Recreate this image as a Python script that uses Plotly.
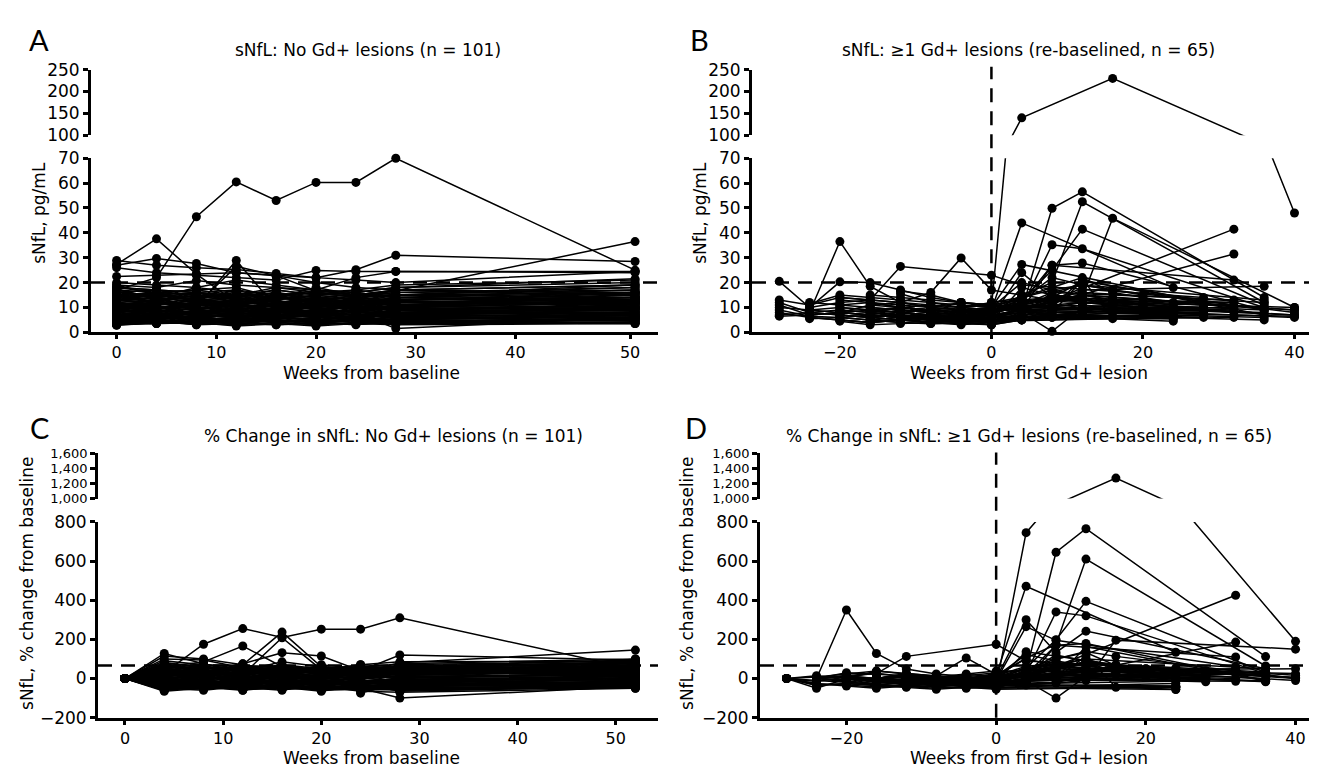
import plotly.graph_objects as go

W, H = 1317, 771

# ---------------- data ----------------
weeks_A = [0, 4, 8, 12, 16, 20, 24, 28, 52]
sNfL_A = [
    [17, 22, 46.5, 60.5, 53, 60.3, 60.3, 70, 25],
    [27.3, 37.6, 23.4, 12, 14, 13, 12, 15, 14],
    [27, 29.7, 27.7, 24, 22.8, 20, 18, 17, 19],
    [28.9, 27, 26, 25.3, 23.7, 22, 21, 20, 24.5],
    [26, 24, 23, 22, 21, 24.9, 24.5, 24.5, 24.5],
    [22.5, 23, 23.5, 24, 23, 22, 25.2, 31, 28.5],
    [16, 14, 10, 28.9, 10, 11, 12, 13, 14],
    [13, 12, 11, 26.5, 22.8, 16.7, 15, 14, 16],
    [19, 18, 20.8, 19, 18, 17, 22, 24.5, 24],
    [18, 17, 16, 15, 14, 16, 15, 16.7, 36.5],
    [10, 9, 8, 9, 8, 7, 8, 1.5, 6],
    [20, 19, 18, 21, 19, 17, 16, 18, 21.5],
    [15, 14, 16, 13, 15, 14, 13, 15, 16],
    [12, 13, 11, 12, 14, 12, 11, 13, 14],
    [10, 11, 12, 10, 11, 13, 12, 11, 12],
    [9, 8, 10, 9, 8, 9, 10, 9, 11],
    [8, 9, 7, 8, 9, 8, 7, 9, 10],
    [7, 6, 8, 7, 6, 7, 8, 7, 9],
    [6, 7, 6, 5, 7, 6, 6, 7, 8],
    [5, 6, 5, 6, 5, 5, 6, 5, 7],
    [4, 5, 4, 4, 5, 4, 5, 4, 6],
    [3, 4, 3.5, 3, 4, 3, 4, 3.5, 4],
    [14, 15, 13, 14, 12, 13, 14, 12, 13],
    [11, 10, 11, 13, 10, 11, 9, 10, 12],
    [13, 11, 12, 11, 13, 10, 12, 11, 15],
    [16, 15, 14, 16, 13, 15, 16, 14, 17],
    [17, 16, 15, 14, 16, 14, 15, 16, 18],
    [18, 17, 16, 17, 15, 16, 14, 15, 19],
    [9, 10, 9, 11, 10, 8, 9, 10, 9],
    [8, 7, 9, 6, 8, 10, 8, 8, 7],
    [6, 5, 7, 8, 6, 5, 7, 6, 6],
    [5, 4, 6, 5, 4, 6, 5, 6, 5],
    [4, 3.5, 5, 3, 5, 3, 4, 5, 4.5],
    [11, 12, 10, 9, 12, 10, 11, 12, 11],
    [12, 11, 13, 12, 11, 12, 13, 12, 13],
    [7, 8, 7, 9, 7, 8, 6, 8, 8],
    [10, 9, 8, 10, 9, 11, 10, 9, 10],
    [13, 14, 12, 13, 14, 13, 12, 14, 12],
    [15, 13, 14, 15, 14, 12, 13, 13, 14],
    [3, 3.5, 4, 2.5, 3.5, 2.5, 3.5, 4, 3.5],
    [5.5, 6.5, 5, 6, 6.5, 5, 6, 6.5, 5.5],
    [8.5, 7.5, 8.5, 8, 7, 9, 8.5, 7.5, 8],
    [9.5, 10.5, 9.5, 10.5, 11, 9.5, 10, 10.5, 9.5],
    [14.5, 12.5, 15, 12, 13.5, 14.5, 11.5, 13, 15.5],
    [6.5, 8, 6, 7, 8.5, 6.5, 7.5, 5.5, 7],
    [11.5, 9.5, 10.5, 11, 9, 10, 11.5, 9.5, 10.5],
    [4.5, 5, 4.5, 5.5, 4.5, 4.5, 5, 4.5, 5],
    [16.5, 14, 12, 11, 12.5, 11, 13, 12, 14],
    [7.5, 6, 9, 8, 6.5, 7.5, 9, 8, 9.5],
    [12.5, 14, 13, 10, 12, 14, 13.5, 11, 12.5],
    [19, 15, 13, 14, 12, 13, 14, 13, 15],
    [10.5, 8, 11, 12, 9, 12, 8, 11, 13],
    [5, 7, 6, 7, 5.5, 7, 6, 7, 6.5],
    [8, 10, 8, 7, 10, 8, 11, 9, 8.5],
    [13.5, 11, 14, 15, 11, 12, 10, 12.5, 11.5],
    [17.5, 13, 16, 14, 17, 15, 13, 17, 16],
    [2.8, 4, 3.5, 5, 4, 4.5, 3.2, 4, 3.5],
    [9, 11, 13, 9, 11, 9, 12, 8, 10],
    [6, 9, 5, 6, 9.5, 6, 5.5, 9, 7.5],
    [15, 16, 17, 18, 14, 17, 16, 18, 20],
    [14, 12, 15, 13, 11, 14, 12, 13, 16],
    [11, 13, 9, 12, 13, 9, 12, 14, 13],
    [9, 7, 8, 10, 7, 9, 8, 10, 12],
    [7, 9, 7, 6, 9, 7, 9, 6, 8],
    [5, 5.5, 7, 4, 6, 5.5, 4, 7, 6],
    [3.5, 4.5, 3, 4.5, 3, 4, 3, 4.5, 4],
    [16, 17, 14, 15, 17, 15, 17, 15, 18],
    [12, 10, 12, 14, 12, 13, 10, 12, 14],
    [10, 12, 10, 8, 11, 10, 13, 12, 11],
    [8, 6, 8, 9, 7, 6, 9, 8, 9.5],
    [6.5, 5, 6.5, 7, 5, 8, 6, 5, 7],
    [4, 6, 4, 5, 6, 3.5, 5, 5.5, 5],
    [13, 15, 16, 12, 15, 16, 14, 16, 17],
    [15, 12, 11, 13, 16, 13, 11, 14, 13],
    [11, 9, 12, 8, 10, 12, 10, 8, 10],
    [9.5, 12, 9, 11, 9, 10.5, 11, 12, 12],
    [7, 5.5, 8, 5.5, 7.5, 6, 7.5, 6.5, 7],
    [5, 4, 4, 6, 4, 5, 4.5, 3.5, 5.5],
    [18, 16, 17, 15, 18, 16, 17, 19, 21],
    [14, 16, 13, 17, 13, 15, 15, 17, 15],
    [12, 9, 14, 11, 15, 11, 12, 10, 13],
    [10, 12.5, 9.5, 13, 10.5, 13, 9, 13, 14],
    [8, 10.5, 7, 9, 11, 7, 10, 9, 11.5],
    [6, 7.5, 5.5, 8, 6, 9, 6.5, 8, 9],
    [4.5, 3.5, 6, 4, 5, 4, 6, 4, 5],
    [3, 5, 3, 3.5, 3, 3.5, 3.5, 3, 3.5],
    [17, 14, 18, 16, 14, 18, 15, 17, 19],
    [13, 16, 15, 14, 16, 12, 15, 15, 16],
    [9, 8.5, 11, 10, 8.5, 11, 9.5, 11, 10],
    [7, 7, 6, 6.5, 8, 7, 5, 7.5, 6],
]

weeks_C = [0, 4, 8, 12, 16, 20, 24, 28, 52]
pct_C = [
    [0, 29, 175, 255, 210, 252, 252, 310, 47],
    [0, 128, 75, 35, 25, 10, 5, 30, 65],
    [0, 115, 100, 70, 237, 60, 40, 50, 85],
    [0, 60, 85, 166, 60, 30, 20, 40, 55],
    [0, 45, 30, 75, 132, 115, 40, 120, 95],
    [0, 20, 15, 40, 85, 60, 30, 80, 145],
    [0, -35, -30, -20, -30, -45, -50, -100, -40],
    [0, 100, 95, 55, 30, 50, -75, -20, 100],
    [0, 80, 60, 20, 208, 45, 35, 70, 90],
    [0, 10, 20, 5, 15, 0, 10, 20, 30],
    [0, -20, -10, -30, -15, -25, -10, -20, -5],
    [0, 30, 40, 20, 35, 25, 45, 30, 50],
    [0, -40, -30, -45, -35, -50, -40, -30, -20],
    [0, 50, 30, 60, 40, 35, 25, 45, 70],
    [0, -10, 5, -5, 10, -15, 0, 10, 15],
    [0, 5, -15, 10, -5, 20, -10, 0, 25],
    [0, -55, -45, -60, -40, -60, -55, -50, -35],
    [0, 70, 50, 40, 55, 30, 45, 60, 80],
    [0, -25, -35, -20, -30, -10, -30, -40, -30],
    [0, 15, 25, 35, 20, 40, 30, 15, 40],
    [0, -5, -20, 0, -25, -5, -20, -10, 10],
    [0, 40, 60, 45, 70, 50, 60, 40, 60],
    [0, -30, -5, -35, -10, -35, -25, 5, -10],
    [0, 20, -5, 25, 5, 10, 20, 25, 35],
    [0, -45, -55, -40, -50, -45, -60, -55, -45],
    [0, 60, 35, 50, 25, 55, 40, 35, 55],
    [0, -15, 10, -25, 0, -20, 5, -15, 0],
    [0, 25, 45, 15, 50, 20, 55, 50, 65],
    [0, -50, -40, -55, -45, -65, -35, -45, -50],
    [0, 35, 15, 30, 45, 35, 15, 55, 75],
    [0, 0, -25, -15, -20, -30, -15, -25, -15],
    [0, 90, 70, 65, 60, 40, 55, 75, 100],
    [0, -35, -15, -50, -20, -40, -45, -35, -25],
    [0, 10, 30, -10, 20, 5, 35, 20, 45],
    [0, -20, -50, -30, -55, -50, -25, -65, -40],
    [0, 45, 20, 55, 30, 65, 25, 40, 50],
    [0, -60, -35, -45, -60, -30, -50, -60, -30],
    [0, 25, 5, 35, 10, 30, 5, 10, 20],
    [0, -10, -35, 5, -40, -20, -35, -30, -20],
    [0, 55, 75, 30, 65, 45, 70, 85, 90],
    [0, 15, -40, 20, -15, 15, -5, -40, 5],
    [0, -30, 25, -15, 30, -35, 15, 35, 30],
    [0, 65, 45, 75, 15, 70, 50, 25, 85],
    [0, -45, -20, -40, -35, -55, -45, -15, -45],
    [0, 5, 50, -5, 45, 0, 35, 45, 40],
    [0, -65, -50, -35, -45, -40, -65, -70, -50],
    [0, 35, -20, 45, -10, 25, -15, -5, 15],
    [0, 75, 40, 25, 50, 20, 65, 45, 60],
    [0, -20, 0, -45, -5, -25, -5, -45, -10],
    [0, 20, 35, 10, 25, 15, 30, 25, 45],
    [0, -15, -25, -10, -35, -20, -15, -30, -20],
    [0, 40, 20, 30, 15, 45, 20, 35, 55],
    [0, -50, -60, -40, -55, -35, -60, -45, -40],
    [0, 5, 10, -10, 5, -5, 15, 5, 20],
    [0, -35, -10, -25, -5, -30, -20, -10, 0],
    [0, 60, 50, 60, 45, 25, 50, 55, 75],
    [0, -25, -45, -35, -40, -45, -35, -55, -35],
    [0, 30, 5, 45, 20, 40, 10, 30, 35],
    [0, -5, -30, 0, -20, 5, -30, -15, 5],
    [0, 50, 65, 35, 40, 55, 35, 65, 80],
    [0, -40, -20, -50, -30, -50, -45, -25, -30],
    [0, 15, 40, 25, 35, 10, 40, 15, 50],
    [0, -60, -45, -55, -50, -45, -40, -60, -45],
    [0, 0, 15, -20, 10, -10, 0, 10, 25],
    [0, 35, 25, 10, 55, 30, 25, 45, 65],
    [0, -30, -40, -20, -45, -25, -40, -35, -25],
    [0, 70, 35, 55, 35, 60, 45, 20, 70],
    [0, -10, -5, -35, -15, -40, -10, -40, -15],
    [0, 25, 55, 40, 20, 35, 60, 40, 60],
    [0, -45, -30, -60, -25, -55, -50, -30, -35],
    [0, 10, -10, 15, -25, 10, -15, -5, 10],
    [0, 45, 35, 65, 55, 50, 30, 55, 85],
    [0, -20, -35, -5, -35, -15, -25, -20, -10],
    [0, 80, 55, 45, 60, 40, 70, 60, 95],
    [0, -55, -20, -30, -40, -60, -30, -50, -40],
    [0, 20, 30, 50, 5, 20, 40, 5, 30],
    [0, -35, -50, -25, -50, -35, -55, -40, -30],
    [0, 55, 25, 20, 40, 45, 15, 50, 55],
    [0, -5, 20, -20, 15, -5, 25, -25, 15],
]

# re-baselined visit weeks per subject (shared by panels B and D)
weeks_B = [
    [-12, -8, -4, 0, 4, 16, 40],
    [-28, -24, -20, -16, -12, -8, -4, 0, 24],
    [-24, -20, -16, -12, -8, -4, 0, 4, 28],
    [-28, -24, -20, -16, -12, -8, -4, 0, 24],
    [-28, -24, -20, -16, -12, -8, -4, 0, 24],
    [-28, -24, -20, -16, -12, -8, -4, 0, 24],
    [-28, -24, -20, -16, -12, -8, -4, 0, 24],
    [-28, -24, -20, -16, -12, -8, -4, 0, 24],
    [-28, -24, -20, -16, -12, -8, -4, 0, 24],
    [-24, -20, -16, -12, 0, 4, 28],
    [-24, -20, -16, -12, -8, -4, 0, 4, 28],
    [-24, -20, -16, -12, -8, -4, 0, 4, 28],
    [-24, -20, -16, -12, -8, -4, 0, 4, 28],
    [-24, -20, -16, -12, -8, -4, 0, 4, 28],
    [-24, -20, -16, -12, -8, -4, 0, 4, 28],
    [-20, -16, -12, -8, -4, 0, 4, 8, 32],
    [-20, -16, -12, -8, -4, 0, 4, 8, 32],
    [-20, -16, -12, -8, -4, 0, 4, 8, 32],
    [-20, -16, -12, -8, -4, 0, 4, 8, 32],
    [-20, -16, -12, -8, -4, 0, 4, 8, 32],
    [-20, -16, -12, -8, -4, 0, 4, 8, 32],
    [-20, -16, -12, -8, -4, 0, 4, 8, 32],
    [-4, 0, 4, 24],
    [-16, -12, -8, -4, 0, 4, 8, 12, 36],
    [-16, -12, -8, -4, 0, 4, 8, 12, 36],
    [-16, -12, -8, -4, 0, 4, 8, 12, 36],
    [-16, -12, -8, -4, 0, 4, 8, 12, 36],
    [-16, -12, -8, -4, 0, 4, 8, 12, 36],
    [-16, -12, -8, -4, 0, 4, 8, 12, 36],
    [-16, -12, -8, -4, 0, 4, 8, 12, 36],
    [-16, -12, -8, -4, 0, 4, 8, 12, 36],
    [-16, -12, -8, -4, 0, 4, 8, 12, 36],
    [-16, -12, -8, -4, 0, 4, 8, 12, 36],
    [-12, -8, -4, 0, 4, 8, 12, 16, 40],
    [-12, -8, -4, 0, 4, 8, 12, 16, 40],
    [-12, -8, -4, 0, 4, 8, 12, 16, 40],
    [-12, -8, -4, 0, 4, 8, 12, 16, 40],
    [-12, -8, -4, 0, 4, 8, 12, 16, 40],
    [0, 4, 8, 12, 16, 20, 24, 28],
    [0, 4, 8, 12, 16, 20, 24, 28],
    [0, 4, 8, 12, 16, 20, 24, 28],
    [-8, -4, 0, 4, 8, 12, 16, 20],
    [-8, -4, 0, 4, 8, 12, 16, 20],
    [-4, 0, 4, 8, 12, 16, 20, 24],
    [-4, 0, 4, 8, 12, 16, 20, 24],
    [-16, -12, -8, -4, 0, 4, 8, 12, 36],
    [-20, -16, -12, -8, -4, 0, 4, 8, 32],
    [-28, -24, -20, -16, -12, -8, -4, 0, 24],
    [-4, 0, 4, 8, 12, 16, 24],
    [-12, -8, -4, 0, 4, 8, 12, 16, 40],
    [-28, -24, -20, -16, -12, -8, -4, 0, 24],
    [-24, -20, -16, -12, -8, -4, 0, 4, 28],
    [-24, -20, -16, -12, -8, -4, 0, 4, 28],
    [-20, -16, -12, -8, -4, 0, 4, 8, 32],
    [-20, -16, -12, -8, -4, 0, 4, 8, 32],
    [-16, -12, -8, -4, 0, 4, 8, 12, 36],
    [-16, -12, -8, -4, 0, 4, 8, 12, 36],
    [-16, -12, -8, -4, 0, 4, 8, 12, 36],
    [-16, -12, -8, -4, 0, 4, 8, 12, 36],
    [-12, -8, -4, 0, 4, 8, 12, 16, 40],
    [-12, -8, -4, 0, 4, 8, 12, 16, 40],
    [-12, -8, -4, 0, 4, 8, 12, 16, 40],
    [0, 4, 8, 12, 16, 20, 24, 28],
    [-8, -4, 0, 4, 8, 12, 16, 20],
    [-4, 0, 4, 8, 12, 16, 20, 24],
    [-20, -16, -12, -8, -4, 0, 4, 8, 32],
]

sNfL_B = [
    [16.6, 15, 12, 10, 140, 230, 48],
    [20.5, 10, 20.3, 20, 17, 14, 12, 11, 9],
    [8.1, 36.5, 18.5, 12, 10, 9, 8, 10, 9],
    [13, 11, 14, 13, 12, 11, 10, 9, 8],
    [12, 8, 9, 8, 7, 6, 7, 6, 7],
    [11, 7, 8, 7, 6, 5, 6, 5, 6],
    [9, 6.5, 6, 5, 6, 7, 5, 6, 5.5],
    [8, 6, 5, 4, 5, 4.5, 4, 4.5, 6],
    [6.5, 7, 8, 9, 8, 7, 8, 9, 10],
    [10, 12, 13, 26.5, 23, 19, 14],
    [11.5, 15, 14, 13, 12, 11, 10, 27.3, 12],
    [9, 10, 9, 8, 9, 8, 9, 10, 8],
    [7, 8, 7, 6, 7, 6, 7, 8, 9],
    [6, 5, 4, 5, 4, 5, 4, 6, 7],
    [5.5, 6, 7, 6, 5, 4, 3, 5, 6],
    [14, 13, 12, 16, 29.9, 17, 15, 13, 12],
    [8, 11, 10, 9, 8, 10, 9, 13, 41.5],
    [11, 10, 9, 8, 7, 9, 10, 12, 31.5],
    [10, 9, 8, 7, 6, 8, 12, 27, 21],
    [8, 7, 6, 5, 6, 5, 7, 9, 10],
    [6, 5, 4, 3.5, 4, 3, 6, 8, 9],
    [4.5, 3, 3.5, 4, 3.5, 4, 5, 7, 6],
    [7.7, 9, 44, 18],
    [6.6, 8, 6, 7, 6, 9, 49.9, 56.5, 14],
    [7.3, 9, 8, 7, 8, 15, 20, 52.5, 12],
    [8.4, 10, 9, 8, 9, 13, 25, 41.5, 11],
    [8, 10, 9, 8, 8, 10, 35.2, 33.6, 10],
    [10, 9, 8, 7, 7, 9, 27, 27.9, 9],
    [9, 8, 7, 6, 6, 8, 0.4, 10, 8],
    [8, 7, 6, 5, 5, 7, 8, 21, 7],
    [7, 6, 5, 4.5, 4, 6, 7, 8, 6],
    [5, 4, 3.5, 3.5, 3, 5, 6, 7, 5],
    [15, 14, 13, 12, 11, 10, 12, 17, 18.5],
    [15.5, 12, 10, 12, 13, 12, 14, 45.9, 10],
    [9, 8, 7, 8, 10, 11, 12, 13, 9],
    [7, 6, 5, 6, 8, 9, 10, 11, 7],
    [6, 5, 4, 5, 6, 7, 8, 9, 6],
    [5, 4, 3, 4, 5, 6, 7, 8, 6.5],
    [12, 14, 18, 22, 16, 14, 12, 11],
    [8, 10, 12, 15, 13, 11, 10, 9],
    [6, 7, 9, 11, 10, 9, 8, 7],
    [10, 12, 11, 13, 22, 19, 17, 15],
    [7, 8, 9, 10, 12, 14, 11, 10],
    [9, 10, 20, 17, 15, 13, 12, 11],
    [6, 7, 12, 10, 9, 8, 8, 7],
    [6, 7, 6, 5, 6, 24, 14, 20.5, 9],
    [5, 4, 5, 4, 5, 4.5, 18, 15, 8],
    [10, 9, 8, 7, 6, 6, 7, 6.5, 5.5],
    [10, 9, 11, 10, 21.5, 5.5, 4.5],
    [8, 7, 6, 5, 7, 16, 19, 17, 8],
    [7, 8, 7, 6, 7, 5, 6, 5, 6],
    [8, 7, 6, 7, 5, 6, 5, 7, 8],
    [12, 11, 12, 10, 9, 10, 11, 13, 10],
    [9, 8, 10, 9, 8, 7, 9, 14, 12],
    [7, 6, 5, 6, 5, 6, 10, 11, 9],
    [9, 10, 8, 9, 8, 11, 14, 16, 12],
    [11, 12, 10, 9, 10, 14, 17, 19, 13],
    [6, 5, 6, 5, 4, 8, 10, 12, 9],
    [12, 10, 11, 9, 8, 12, 13, 15, 10],
    [10, 9, 8, 9, 11, 13, 15, 14, 9],
    [8, 9, 7, 8, 12, 14, 13, 12, 10],
    [6, 7, 5, 6, 9, 12, 14, 10, 7],
    [10, 12, 14, 13, 12, 11, 10, 10],
    [9, 8, 9, 12, 14, 12, 11, 10],
    [8, 9, 13, 14, 12, 11, 10, 9],
    [13, 12, 11, 10, 9, 8, 11, 16, 13],
]

pct_D = [
    [0, -10, -28, -40, 745, 1270, 190],
    [0, -50, -1, -2, -17, -32, -41, -46, -56],
    [0, 350, 128, 48, 23, 11, -1, 23, 11],
    [0, -15, 8, 0, -8, -15, -23, -31, -38],
    [0, -33, -25, -33, -42, -50, -42, -50, -42],
    [0, -36, -27, -36, -45, -55, -45, -55, -45],
    [0, -28, -33, -44, -33, -22, -44, -33, -39],
    [0, -25, -38, -50, -38, -44, -50, -44, -25],
    [0, 8, 23, 38, 23, 8, 23, 38, 54],
    [0, 15, 25, 113, 175, 90, 40],
    [0, 30, 22, 13, 4, -4, -13, 137, 4],
    [0, 11, 0, -11, 0, -11, 0, 11, -11],
    [0, 14, 0, -14, 0, -14, 0, 14, 29],
    [0, -17, -33, -17, -33, -17, -33, 0, 17],
    [0, 9, 27, 9, -9, -27, -45, -9, 9],
    [0, -7, -14, 14, 105, 21, 7, -7, -14],
    [0, 38, 25, 13, 0, 25, 13, 63, 425],
    [0, -9, -18, -27, -36, -18, -9, 9, 186],
    [0, -10, -20, -30, -40, -20, 20, 170, 110],
    [0, -13, -25, -38, -25, -38, -13, 13, 25],
    [0, -17, -33, -42, -33, -50, 0, 33, 50],
    [0, -33, -22, -11, -22, -11, 11, 56, 33],
    [0, 17, 471, 134],
    [0, 21, -9, 6, -9, 36, 645, 765, 112],
    [0, 23, 10, -4, 10, 105, 174, 610, 64],
    [0, 19, 7, -5, 7, 55, 198, 394, 31],
    [0, 25, 13, 0, 0, 25, 340, 320, 25],
    [0, -10, -20, -30, -30, -10, 170, 179, -10],
    [0, -11, -22, -33, -33, -11, -100, 11, -11],
    [0, -13, -25, -38, -38, -13, 0, 163, -13],
    [0, -14, -29, -36, -43, -14, 0, 14, -14],
    [0, -20, -30, -30, -40, 0, 20, 40, 0],
    [0, -7, -13, -20, -27, -33, -20, 13, 23],
    [0, -23, -35, -23, -16, -23, -10, 196, 150],
    [0, -11, -22, -11, 11, 22, 33, 44, 50],
    [0, -14, -29, -14, 14, 29, 43, 57, 5],
    [0, -17, -33, -17, 0, 17, 33, 50, 5],
    [0, -20, -40, -20, 0, 20, 40, 60, 0],
    [0, 17, 50, 83, 33, 17, 0, -8],
    [0, 25, 50, 88, 63, 38, 25, 13],
    [0, 17, 50, 83, 67, 50, 33, 17],
    [0, 20, 10, 30, 120, 90, 70, 50],
    [0, 14, 29, 43, 71, 100, 57, 43],
    [0, 11, 122, 89, 67, 44, 33, 22],
    [0, 17, 100, 67, 50, 33, 33, 17],
    [0, 17, 0, -17, 0, 300, 133, 242, 50],
    [0, -20, 0, -20, 0, -10, 265, 195, 60],
    [0, -10, -20, -30, -40, -40, -30, -35, -45],
    [0, -10, 10, 0, 115, -45, -55],
    [0, -13, -25, -38, -13, 100, 138, 113, 0],
    [0, 14, 0, -14, 0, -29, -14, -29, -14],
    [0, -13, -25, -13, -38, -25, -38, -13, 0],
    [0, -8, 0, -17, -25, -17, -8, 8, -17],
    [0, -11, 11, 0, -11, -22, 0, 56, 33],
    [0, -14, -29, -14, -29, -14, 43, 57, 29],
    [0, 11, -11, 0, -11, 22, 56, 78, 33],
    [0, 9, -9, -18, -9, 27, 55, 73, 18],
    [0, -17, 0, -17, -33, 33, 67, 100, 50],
    [0, -17, -8, -25, -33, 0, 8, 25, -17],
    [0, -10, -20, -10, 10, 30, 50, 40, -10],
    [0, 13, -13, 0, 50, 75, 63, 50, 25],
    [0, 17, -17, 0, 50, 100, 133, 67, 17],
    [0, 20, 40, 30, 20, 10, 0, 0],
    [0, -11, 0, 33, 56, 33, 22, 11],
    [0, 13, 63, 75, 50, 38, 25, 13],
    [0, -8, -15, -23, -31, -38, -15, 23, 0],
]

threshold_sNfL = 20
threshold_pct = 66

# tick positions / labels
xticks_A = [0, 10, 20, 30, 40, 51.5]
xlabels_A = ["0", "10", "20", "30", "40", "50"]
xticks_C = [0, 10, 20, 30, 40, 50]
xticks_BD = [-20, 0, 20, 40]

# ---------------- helpers ----------------
def px_x(p):
    return p / W


def px_y(p):
    return 1 - p / H


def flatten(weeks_list, values_list):
    xs, ys = [], []
    for wk, vals in zip(weeks_list, values_list):
        for w, v in zip(wk, vals):
            if v is not None:
                xs.append(w)
                ys.append(v)
        xs.append(None)
        ys.append(None)
    return xs, ys


def in_range(xs, ys, lo, hi):
    px, py = [], []
    for x, y in zip(xs, ys):
        if y is not None and lo <= y <= hi:
            px.append(x)
            py.append(y)
    return px, py


def lab(t):
    return ("\u2212" + f"{-t:,}") if t < 0 else f"{t:,}"


xa, ya = flatten([weeks_A] * len(sNfL_A), sNfL_A)
xc, yc = flatten([weeks_C] * len(pct_C), pct_C)
xb, yb = flatten(weeks_B, sNfL_B)
xd, yd = flatten(weeks_B, pct_D)

FONT = "DejaVu Sans, Verdana, sans-serif"
FS = 17

fig = go.Figure()

panels = [
    dict(data=(xa, ya), xd=(83, 650), xr=[-2.57, 54.3],
         lo=(144, 322.7, [0, 70], list(range(0, 71, 10))),
         up=(53, 120.5, [100, 250], [100, 150, 200, 250]), upfs=FS,
         xt=xticks_A, xtl=xlabels_A, hline=threshold_sNfL, vline=None),
    dict(data=(xb, yb), xd=(744, 1313), xr=[-31.6, 43.5],
         lo=(144, 322.7, [0, 70], list(range(0, 71, 10))),
         up=(53, 120.5, [100, 250], [100, 150, 200, 250]), upfs=FS,
         xt=xticks_BD, xtl=[lab(t) for t in xticks_BD], hline=threshold_sNfL, vline=(50, 322.7)),
    dict(data=(xc, yc), xd=(90, 650), xr=[-2.75, 54.3],
         lo=(517.3, 718.3, [-200, 800], list(range(-200, 801, 200))),
         up=(446.7, 493.3, [1000, 1600], [1000, 1200, 1400, 1600]), upfs=13,
         xt=xticks_C, xtl=[lab(t) for t in xticks_C], hline=threshold_pct, vline=None),
    dict(data=(xd, yd), xd=(752, 1307), xr=[-31.55, 42.6],
         lo=(517.3, 718.3, [-200, 800], list(range(-200, 801, 200))),
         up=(446.7, 493.3, [1000, 1600], [1000, 1200, 1400, 1600]), upfs=13,
         xt=xticks_BD, xtl=[lab(t) for t in xticks_BD], hline=threshold_pct, vline=(446, 718.3)),
]

layout = dict(
    width=W, height=H, margin=dict(l=0, r=0, t=0, b=0),
    paper_bgcolor="white", plot_bgcolor="rgba(0,0,0,0)",
    showlegend=False, font=dict(family=FONT, size=FS, color="black"),
)
shapes = []
axis_common = dict(showgrid=False, zeroline=False, showline=True, linecolor="black",
                   linewidth=2.8, ticks="outside", ticklen=5, tickwidth=2.5,
                   tickcolor="black", tickfont=dict(family=FONT, size=FS, color="black"))

for i, p in enumerate(panels):
    lo_idx = 2 * i + 1
    up_idx = 2 * i + 2
    xl = "x" if lo_idx == 1 else f"x{lo_idx}"
    yl = "y" if lo_idx == 1 else f"y{lo_idx}"
    xu = f"x{up_idx}"
    yu = f"y{up_idx}"
    xkey_l = "xaxis" if lo_idx == 1 else f"xaxis{lo_idx}"
    ykey_l = "yaxis" if lo_idx == 1 else f"yaxis{lo_idx}"
    xkey_u = f"xaxis{up_idx}"
    ykey_u = f"yaxis{up_idx}"
    xdom = [px_x(p["xd"][0]), px_x(p["xd"][1])]
    lt, lb, lr, ltk = p["lo"]
    ut, ub, ur, utk = p["up"]

    layout[xkey_l] = dict(axis_common, domain=xdom, range=p["xr"], anchor=yl,
                          tickvals=p["xt"], ticktext=p["xtl"], ticklen=4,
                          tickfont=dict(family=FONT, size=16, color="black"))
    layout[ykey_l] = dict(axis_common, domain=[px_y(lb), px_y(lt)], range=lr, anchor=xl,
                          tickvals=ltk, ticktext=[lab(t) for t in ltk])
    layout[xkey_u] = dict(domain=xdom, range=p["xr"], anchor=yu, visible=False,
                          showgrid=False, zeroline=False)
    layout[ykey_u] = dict(axis_common, domain=[px_y(ub), px_y(ut)], range=ur, anchor=xu,
                          tickvals=utk, ticktext=[lab(t) for t in utk],
                          tickfont=dict(family=FONT, size=p["upfs"], color="black"))

    xs, ys = p["data"]
    for xa_, ya_, rng in ((xl, yl, lr), (xu, yu, ur)):
        fig.add_trace(go.Scatter(
            x=xs, y=ys, xaxis=xa_, yaxis=ya_, mode="lines",
            line=dict(color="black", width=1.5), hoverinfo="skip",
        ))
        mx, my = in_range(xs, ys, rng[0], rng[1])
        fig.add_trace(go.Scatter(
            x=mx, y=my, xaxis=xa_, yaxis=ya_, mode="markers",
            marker=dict(color="black", size=9), cliponaxis=False, hoverinfo="skip",
        ))

    shapes.append(dict(type="line", xref=f"{xl} domain", yref=yl, x0=0, x1=1,
                       y0=p["hline"], y1=p["hline"],
                       line=dict(color="black", width=2.5, dash="14px,9px")))
    if p["vline"] is not None:
        t, b = p["vline"]
        shapes.append(dict(type="line", xref=xl, yref="paper", x0=0, x1=0,
                           y0=px_y(b), y1=px_y(t),
                           line=dict(color="black", width=2.5, dash="14px,9px")))

layout["shapes"] = shapes

ann = []


def text(s, x, y, size=FS, angle=0, family=FONT):
    ann.append(dict(text=s, x=px_x(x), y=px_y(y), xref="paper", yref="paper",
                    showarrow=False, xanchor="center", yanchor="middle",
                    textangle=angle, font=dict(family=family, size=size, color="black")))


text("sNfL: No Gd+ lesions (n = 101)", 360, 33)
text("sNfL: \u22651 Gd+ lesions (re-baselined, n = 65)", 1020, 33)
text("% Change in sNfL: No Gd+ lesions (n = 101)", 385, 429)
text("% Change in sNfL: \u22651 Gd+ lesions (re-baselined, n = 65)", 1021, 429)
text("Weeks from baseline", 363, 364)
text("Weeks from first Gd+ lesion", 1021, 364)
text("Weeks from baseline", 363, 760)
text("Weeks from first Gd+ lesion", 1021, 760)
text("sNfL, pg/mL", 31, 200, angle=-90)
text("sNfL, pg/mL", 692, 200, angle=-90)
text("sNfL, % change from baseline", 19, 580, angle=-90)
text("sNfL, % change from baseline", 679, 580, angle=-90)
text("A", 31, 22, size=29, family="Lato, Open Sans, sans-serif")
text("B", 691, 22, size=29, family="Lato, Open Sans, sans-serif")
text("C", 31, 420, size=29, family="Lato, Open Sans, sans-serif")
text("D", 688, 420, size=29, family="Lato, Open Sans, sans-serif")
layout["annotations"] = ann

fig.update_layout(**layout)
fig.write_html("out.html")
